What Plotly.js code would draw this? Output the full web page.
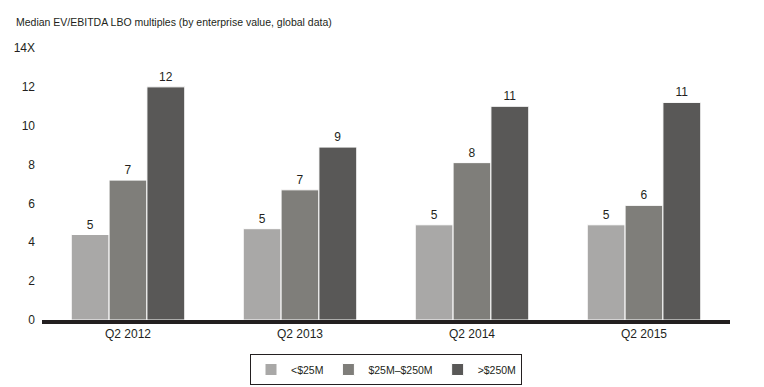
<!DOCTYPE html>
<html><head><meta charset="utf-8">
<script src="https://cdn.plot.ly/plotly-3.0.1.min.js"></script>
<style>html,body{margin:0;padding:0;background:#fff}#chart{width:764px;height:387px}</style>
</head><body><div id="chart"></div>
<script>
const categories = ["Q2 2012", "Q2 2013", "Q2 2014", "Q2 2015"];
const seriesNames = ["<$25M", "$25M\u2013$250M", ">$250M"];
const small = [4.4, 4.7, 4.9, 4.9];
const mid = [7.2, 6.7, 8.1, 5.9];
const large = [12.0, 8.9, 11.0, 11.2];
const smallLabels = ["5", "5", "5", "5"];
const midLabels = ["7", "7", "8", "6"];
const largeLabels = ["12", "9", "11", "11"];
const yTickVals = [0, 2, 4, 6, 8, 10, 12, 14];
const yTickText = ["0", "2", "4", "6", "8", "10", "12", "14X"];
const colors = ["#a9a8a7", "#7f7e7a", "#595857"];

const font = "'Liberation Sans', Arial, sans-serif";
const vals = [small, mid, large];
const labs = [smallLabels, midLabels, largeLabels];
const traces = vals.map((v, i) => ({
  type: "bar", name: seriesNames[i], x: categories, y: v,
  text: labs[i], textposition: "outside", cliponaxis: false,
  textfont: {family: font, size: 12, color: "#231f20"},
  marker: {color: colors[i], line: {color: "#ffffff", width: 1}},
  hoverinfo: "none"
}));

const layout = {
  width: 764, height: 387,
  margin: {l: 42, r: 34, t: 48, b: 67, autoexpand: false},
  paper_bgcolor: "#fff", plot_bgcolor: "#fff",
  barmode: "group", bargap: 0.34, bargroupgap: 0,
  font: {family: font, size: 12, color: "#231f20"},
  xaxis: {showline: true, linecolor: "#231f20", linewidth: 4, ticks: "", showgrid: false,
    automargin: false, tickfont: {family: font, size: 12, color: "#231f20"}},
  yaxis: {range: [0, 14], tickvals: yTickVals, ticktext: yTickText, showgrid: false,
    automargin: false, zeroline: false, showline: false, ticks: "", ticklabelstandoff: 6,
    tickfont: {family: font, size: 12, color: "#231f20"}},
  showlegend: true,
  legend: {orientation: "h", x: 0.5, xanchor: "center", y: -0.125, yanchor: "top",
    bordercolor: "#231f20", borderwidth: 1, font: {family: font, size: 10.5, color: "#231f20"},
    itemwidth: 30, traceorder: "normal", tracegroupgap: 0},
  annotations: [{xref: "paper", yref: "paper", x: 0, xshift: -28, y: 1, yshift: 26,
    xanchor: "left", yanchor: "middle", showarrow: false,
    text: "Median EV/EBITDA LBO multiples (by enterprise value, global data)",
    font: {family: font, size: 10.5, color: "#231f20"}}]
};
Plotly.newPlot("chart", traces, layout, {displayModeBar: false, staticPlot: true});
</script></body></html>
